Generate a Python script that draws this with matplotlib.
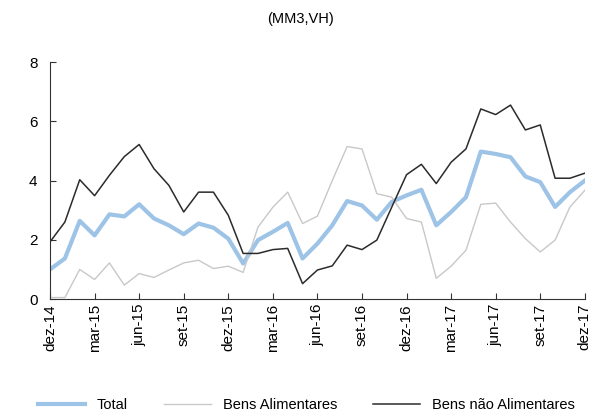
import numpy as np
import matplotlib.pyplot as plt

plt.rcParams["font.family"] = ["Liberation Sans", "DejaVu Sans"]

# monthly, dez-14 .. dez-17
tick_labels = ["dez-14", "mar-15", "jun-15", "set-15", "dez-15", "mar-16", "jun-16",
               "set-16", "dez-16", "mar-17", "jun-17", "set-17", "dez-17"]

total = [1.0, 1.37, 2.64, 2.15, 2.86, 2.79, 3.2, 2.72, 2.49, 2.19, 2.55, 2.41, 2.04,
         1.2, 1.99, 2.27, 2.57, 1.37, 1.87, 2.49, 3.31, 3.16, 2.68, 3.28, 3.5,
         3.69, 2.49, 2.94, 3.44, 4.98, 4.9, 4.79, 4.14, 3.95, 3.11, 3.61, 4.0]

alimentares = [0.05, 0.05, 1.0, 0.66, 1.22, 0.47, 0.86, 0.73, 0.98, 1.22, 1.31, 1.03, 1.11,
               0.9, 2.43, 3.1, 3.61, 2.55, 2.8, 4.0, 5.15, 5.07, 3.56, 3.44, 2.72,
               2.6, 0.7, 1.11, 1.65, 3.2, 3.24, 2.6, 2.04, 1.59, 1.99, 3.11, 3.67]

nao_alimentares = [1.93, 2.6, 4.03, 3.49, 4.18, 4.81, 5.22, 4.4, 3.84, 2.94, 3.61, 3.61, 2.83,
                   1.54, 1.54, 1.67, 1.71, 0.52, 0.98, 1.12, 1.82, 1.67, 1.99, 3.1, 4.2,
                   4.55, 3.9, 4.62, 5.07, 6.42, 6.23, 6.55, 5.71, 5.88, 4.08, 4.08, 4.25]

x = np.arange(len(total))

fig = plt.figure(figsize=(6.13, 4.2), dpi=100)
ax = fig.add_axes([0.0816, 0.288, 0.8724, 0.564])

ax.plot(x, total, color="#9dc3e6", lw=3, label="Total")
ax.plot(x, alimentares, color="#c8c8c8", lw=1, label="Bens Alimentares")
ax.plot(x, nao_alimentares, color="#2b2b2b", lw=1.1, label="Bens não Alimentares")

ax.set_xlim(0, len(total) - 1)
ax.set_ylim(0, 8)
ax.set_yticks([0, 2, 4, 6, 8])
ax.set_xticks(x[::3])
ax.set_xticklabels(tick_labels, rotation=90)
ax.tick_params(axis="both", direction="in", length=4, labelsize=11, color="#333333")
ax.tick_params(axis="y", pad=9)
for side in ["top", "right"]:
    ax.spines[side].set_visible(False)
for side in ["left", "bottom"]:
    ax.spines[side].set_color("#333333")

fig.text(0.49, 0.955, "(MM3,VH)", ha="center", va="center", fontsize=10.5)

fig.legend(loc="lower center", bbox_to_anchor=(0.5, -0.012), ncol=3, frameon=False,
           fontsize=10.5, handlelength=3.2, columnspacing=2.5)

fig.savefig("out.png", dpi=100)
